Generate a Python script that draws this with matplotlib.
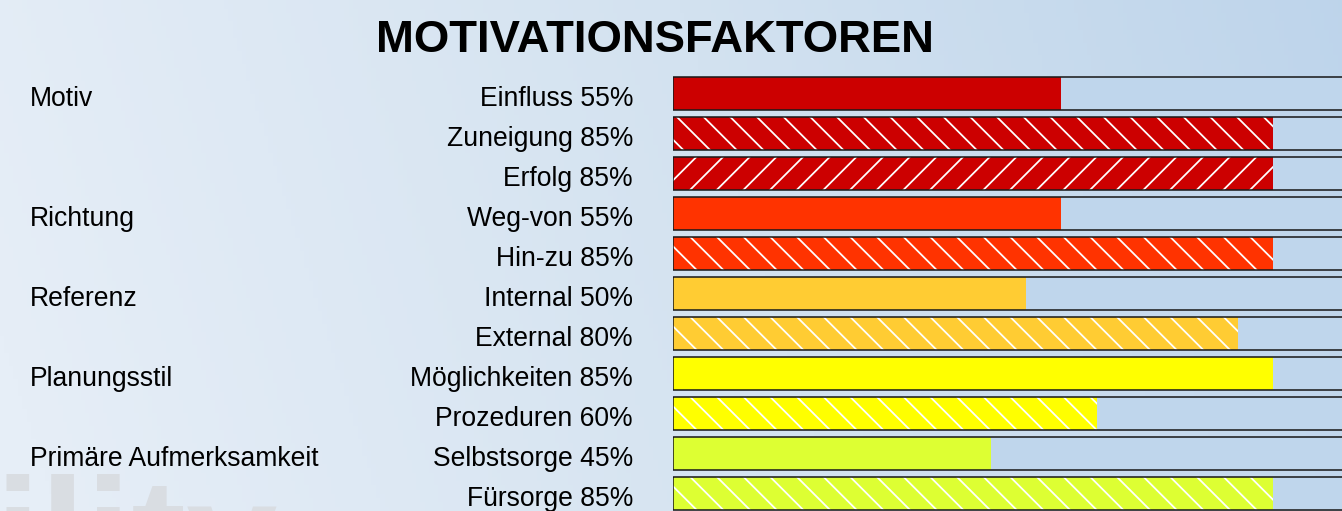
import numpy as np
import matplotlib
matplotlib.use("Agg")
import matplotlib.pyplot as plt
from matplotlib.colors import LinearSegmentedColormap
from matplotlib.transforms import blended_transform_factory

# ---- data ----
title = "MOTIVATIONSFAKTOREN"
groups = ["Motiv", "", "", "Richtung", "", "Referenz", "", "Planungsstil", "",
          "Primäre Aufmerksamkeit", ""]
items = ["Einfluss", "Zuneigung", "Erfolg", "Weg-von", "Hin-zu", "Internal",
         "External", "Möglichkeiten", "Prozeduren", "Selbstsorge", "Fürsorge"]
values = [55, 85, 85, 55, 85, 50, 80, 85, 60, 45, 85]
colors = ["#cc0000", "#cc0000", "#cc0000", "#ff3300", "#ff3300", "#ffcc33",
          "#ffcc33", "#ffff00", "#ffff00", "#ddff33", "#ddff33"]
hatches = ["", "\\\\", "//", "", "\\\\", "", "\\\\", "", "\\\\", "", "\\\\"]

W, H, DPI = 1342, 511, 160
plt.rcParams["hatch.linewidth"] = 0.8
plt.rcParams["font.family"] = ["Liberation Sans", "DejaVu Sans"]

fig = plt.figure(figsize=(W / DPI, H / DPI), dpi=DPI)

# background gradient
bg = fig.add_axes([0, 0, 1, 1])
bg.set_axis_off()
xx, yy = np.meshgrid(np.linspace(0, 1, 300), np.linspace(0, 1, 120))
g = np.clip(0.85 * xx + 0.2 * (0.5 - yy) * 0.5 + 0.02, 0, 1)
cmap = LinearSegmentedColormap.from_list("bg", ["#e6eef7", "#d3e2f0", "#bad2ea"])
bg.imshow(g, cmap=cmap, aspect="auto", extent=[0, 1, 0, 1], origin="upper",
          vmin=0, vmax=1)
bg.set_xlim(0, 1)
bg.set_ylim(0, 1)
# faint watermark
bg.text(-0.004, -0.16, "ility", fontsize=74, fontweight="bold", color="#d9dde2",
        ha="left", va="baseline", transform=bg.transAxes, zorder=1)

fig.text(655 / W, 1 - 40 / H, title, fontsize=45.5 * 72 / DPI, fontweight="bold",
         ha="center", va="center", color="black")

# bar axes
top_px, bot_px = 73.5, 513.5
left_px = 673
ax = fig.add_axes([left_px / W, 1 - bot_px / H, 1 - left_px / W, (bot_px - top_px) / H])
ax.set_axis_off()
n = len(values)
ax.set_ylim(n - 0.5, -0.5)
ax.set_xlim(0, 100 * (W - left_px) / 706.0)
ax.patch.set_alpha(0)

y = np.arange(n)
bh = 0.825
# tracks
ax.barh(y, [100] * n, height=bh, left=0, color="#bfd6ec", edgecolor="none",
        zorder=1)
# coloured bars
for i in range(n):
    ax.barh(y[i], values[i], height=bh, color=colors[i], edgecolor="white",
            linewidth=0, hatch=hatches[i], zorder=2)
# outlines
ax.barh(y, [100] * n, height=bh, left=0, fill=False, edgecolor="#1a1a1a",
        linewidth=0.7, zorder=3)

tr = blended_transform_factory(fig.transFigure, ax.transData)
fs = 26.5 * 72 / DPI
for i in range(n):
    if groups[i]:
        ax.text(30 / W, y[i] + 0.31, groups[i], transform=tr, ha="left",
                va="baseline", fontsize=fs, clip_on=False, zorder=5)
    ax.text(633 / W, y[i] + 0.31, f"{items[i]} {values[i]}%", transform=tr,
            ha="right", va="baseline", fontsize=fs, clip_on=False, zorder=5)

fig.savefig("out.png", dpi=DPI)
